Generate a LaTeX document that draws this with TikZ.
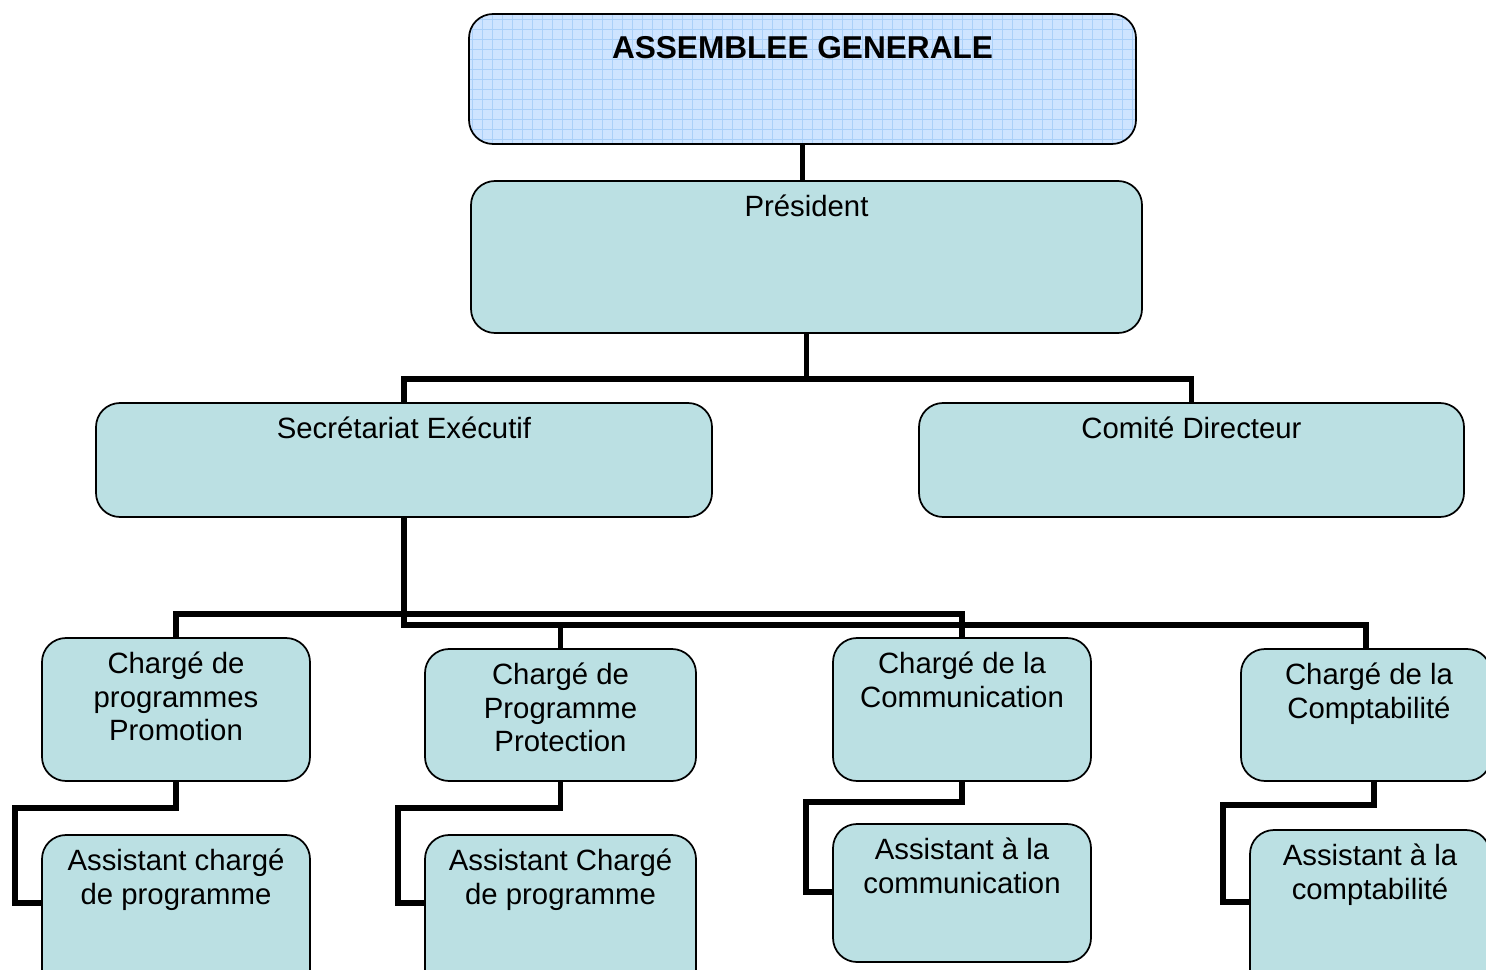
\documentclass[tikz,border=0pt]{standalone}
\usepackage{fontspec}
\setmainfont{Liberation Sans}
\newcommand{\fs}{\rule{0pt}{20pt}}
\definecolor{boxfill}{RGB}{187,224,227}
\definecolor{agfill}{RGB}{206,228,255}
\definecolor{aggrid}{RGB}{170,208,248}
\begin{document}
\begin{tikzpicture}[x=0.75pt,y=-0.75pt,
  box/.style={draw=black, line width=1.3pt, fill=boxfill, rounded corners=18pt, inner sep=0pt, outer sep=0pt},
  agbox/.style={box, fill=agfill, path picture={\draw[aggrid, line width=0.6pt] (path picture bounding box.south west) grid[step=7.5pt] (path picture bounding box.north east);}},
  sz/.style 2 args={minimum width=#1*0.75pt, minimum height=#2*0.75pt},
  txt/.style={anchor=north, align=center, inner sep=0pt, font=\fontsize{22}{25.1}\selectfont},
  conn/.style={line width=3.9pt, line join=miter, draw=black}]
\useasboundingbox (0,0) rectangle (1486,970);
\clip (0,0) rectangle (1486,970);

% boxes
\node[agbox, sz={667}{130}] (AG) at (802.5,79) {};
\node[box, sz={671}{152}] (Pres) at (806.5,257) {};
\node[box, sz={616}{114}] (Sec) at (404,460) {};
\node[box, sz={545}{114}] (Com) at (1191.5,460) {};
\node[box, sz={268}{143}] (Promo) at (176,709.5) {};
\node[box, sz={271}{132}] (Prot) at (560.5,715) {};
\node[box, sz={258}{143}] (Comm) at (962,709.5) {};
\node[box, sz={250}{132}] (Compt) at (1366,715) {};
\node[box, sz={268}{165}] (A1) at (176,917.5) {};
\node[box, sz={271}{165}] (A2) at (560.5,917.5) {};
\node[box, sz={258}{138}] (A3) at (962,893) {};
\node[box, sz={240}{170}] (A4) at (1370,915) {};

% texts
\node[txt, font=\fontsize{23.7}{26}\selectfont\bfseries] (tAG) at ([yshift=-13.5pt]AG.north) {\fs ASSEMBLEE GENERALE};
\node[txt] (tPres) at ([yshift=-6.75pt]Pres.north) {\fs Président};
\node[txt] (tSec) at ([yshift=-6.75pt]Sec.north) {\fs Secrétariat Exécutif};
\node[txt] (tCom) at ([yshift=-6.75pt]Com.north) {\fs Comité Directeur};
\node[txt] (tPromo) at ([yshift=-6.75pt]Promo.north) {\fs Chargé de\\programmes\\Promotion};
\node[txt] (tProt) at ([yshift=-6.75pt]Prot.north) {\fs Chargé de\\Programme\\Protection};
\node[txt] (tComm) at ([yshift=-6.75pt]Comm.north) {\fs Chargé de la\\Communication};
\node[txt] (tCompt) at ([xshift=2.25pt,yshift=-6.75pt]Compt.north) {\fs Chargé de la\\Comptabilité};
\node[txt] (tA1) at ([yshift=-6.75pt]A1.north) {\fs Assistant chargé\\de programme};
\node[txt] (tA2) at ([yshift=-6.75pt]A2.north) {\fs Assistant Chargé\\de programme};
\node[txt] (tA3) at ([yshift=-6.75pt]A3.north) {\fs Assistant à la\\communication};
\node[txt] (tA4) at ([yshift=-6.75pt]A4.north) {\fs Assistant à la\\comptabilité};

% junction coordinates
\coordinate (j1) at (806.5,379);
\coordinate (j2) at (404,625);
\coordinate (j3) at (500,614);
\coordinate (e1) at (15,808);   \coordinate (k1) at (0,903);
\coordinate (e2) at (398,808);  \coordinate (k2) at (0,903);
\coordinate (e3) at (806,802);  \coordinate (k3) at (0,892);
\coordinate (e4) at (1223,805); \coordinate (k4) at (0,902);
\coordinate (c4) at (1374,781);

% connectors
\draw[conn] (AG.south) -- (AG.south |- Pres.north);
\draw[conn] (Pres.south) -- (j1);
\draw[conn] (Sec.north) |- (j1) -| (Com.north);
\draw[conn] (Sec.south) -- (j2) -| (Compt.north);
\draw[conn] (Prot.north) -- (Prot.north |- j2);
\draw[conn] (Promo.north) |- (j3) -| (Comm.north);
\draw[conn] (Promo.south) |- (e1) |- (A1.west |- k1);
\draw[conn] (Prot.south) |- (e2) |- (A2.west |- k2);
\draw[conn] (Comm.south) |- (e3) |- (A3.west |- k3);
\draw[conn] (c4) |- (e4) |- (A4.west |- k4);
\end{tikzpicture}
\end{document}
